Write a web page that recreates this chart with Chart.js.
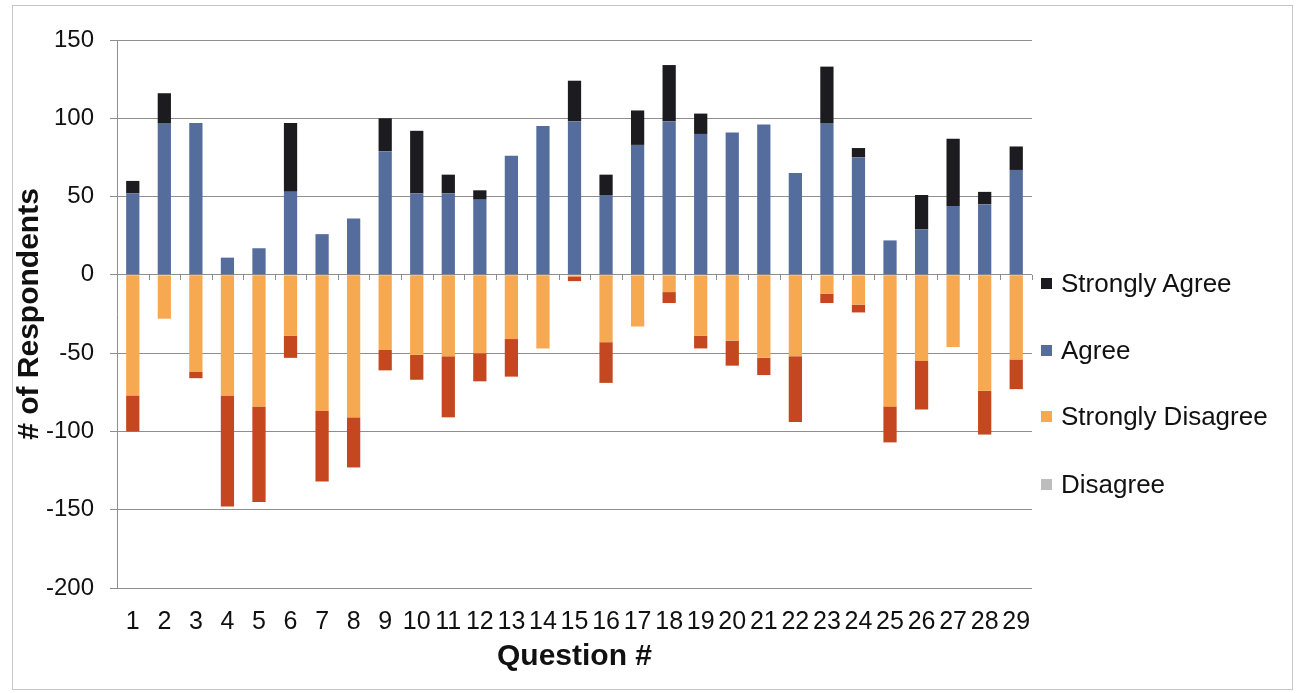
<!DOCTYPE html>
<html>
<head>
<meta charset="utf-8">
<title>Responses by Question</title>
<script src="https://cdn.jsdelivr.net/npm/chart.js@4.4.1/dist/chart.umd.min.js"></script>
<style>
  html, body { margin: 0; padding: 0; background: #fff; }
  #wrap { position: relative; width: 1297px; height: 693px; overflow: hidden; }
  #frame { position: absolute; left: 12px; top: 5px; width: 1279px; height: 683px;
           border: 1px solid #c6c6c6; pointer-events: none; }
  #legend { position: absolute; left: 1041px; top: 0; font-family: "Liberation Sans", Arial, sans-serif;
            font-size: 26px; color: #111; }
  #legend .item { position: absolute; left: 0; height: 30px; white-space: nowrap;
                  display: flex; align-items: center; }
  #legend .box { width: 11px; height: 11px; margin-right: 9px; flex: none; }
</style>
</head>
<body>
<div id="wrap">
  <canvas id="chart" width="1297" height="693"></canvas>
  <div id="frame"></div>
  <div id="legend"></div>
</div>
<script>
// Question numbers along the category axis
const questions = ['1','2','3','4','5','6','7','8','9','10','11','12','13','14','15',
                   '16','17','18','19','20','21','22','23','24','25','26','27','28','29'];

// Respondent counts per question (disagreement shown below zero)
const agree          = [52, 97, 97, 11, 17, 53, 26, 36, 79, 52, 52, 48, 76, 95, 98,
                        51, 83, 98, 90, 91, 96, 65, 97, 75, 22, 29, 44, 45, 67];
const stronglyAgree  = [ 8, 19,  0,  0,  0, 44,  0,  0, 21, 40, 12,  6,  0,  0, 26,
                        13, 22, 36, 13,  0,  0,  0, 36,  6,  0, 22, 43,  8, 15];
const stronglyDisagree = [-77, -28, -62, -77, -84, -39, -87, -91, -48, -51, -52, -50, -41, -47, -1,
                          -43, -33, -11, -39, -42, -53, -52, -12, -19, -84, -55, -46, -74, -54];
const disagree       = [-23,   0,  -4, -71, -61, -14, -45, -32, -13, -16, -39, -18, -24,   0, -3,
                        -26,   0,  -7,  -8, -16, -11, -42,  -6,  -5, -23, -31,   0, -28, -19];

// Y axis range and step
const yMin = -200, yMax = 150, yStep = 50;

const FONT = '"Liberation Sans", Arial, Helvetica, sans-serif';
Chart.defaults.font.family = FONT;
Chart.defaults.color = '#111';

const GRID = '#8e8e8e';

// Small tick marks on the zero line between the categories
const zeroTicks = {
  id: 'zeroTicks',
  afterDatasetsDraw(chart) {
    const { ctx, scales: { x, y } } = chart;
    const y0 = Math.round(y.getPixelForValue(0));
    const n = x.ticks.length;
    ctx.save();
    ctx.strokeStyle = GRID;
    ctx.lineWidth = 1;
    for (let i = 0; i <= n; i++) {
      let px;
      if (i === 0) px = x.left;
      else if (i === n) px = x.right;
      else px = (x.getPixelForTick(i - 1) + x.getPixelForTick(i)) / 2;
      px = Math.round(px) + 0.5;
      ctx.beginPath();
      ctx.moveTo(px, y0);
      ctx.lineTo(px, y0 + 5);
      ctx.stroke();
    }
    ctx.restore();
  }
};

// Legend rendered as HTML beside the plot
const legendRows = [
  { label: 'Strongly Agree',    center: 283 },
  { label: 'Agree',             center: 350 },
  { label: 'Strongly Disagree', center: 416 },
  { label: 'Disagree',          center: 484 }
];
const htmlLegend = {
  id: 'htmlLegend',
  afterUpdate(chart) {
    const host = document.getElementById('legend');
    host.innerHTML = '';
    legendRows.forEach(row => {
      const ds = chart.data.datasets.find(d => d.label === row.label);
      const item = document.createElement('div');
      item.className = 'item';
      item.style.top = (row.center - 15) + 'px';
      const box = document.createElement('span');
      box.className = 'box';
      box.style.background = ds.legendSwatch || ds.backgroundColor;
      const txt = document.createElement('span');
      txt.textContent = ds.label;
      item.appendChild(box);
      item.appendChild(txt);
      host.appendChild(item);
    });
  }
};

new Chart(document.getElementById('chart'), {
  type: 'bar',
  data: {
    labels: questions,
    datasets: [
      { label: 'Agree',             data: agree,            backgroundColor: '#556d9d' },
      { label: 'Strongly Agree',    data: stronglyAgree,    backgroundColor: '#1c1c20' },
      { label: 'Strongly Disagree', data: stronglyDisagree, backgroundColor: '#f7a952' },
      { label: 'Disagree',          data: disagree,         backgroundColor: '#c5471f', legendSwatch: '#bdbdbd' }
    ]
  },
  options: {
    responsive: false,
    animation: false,
    layout: { padding: { left: 0, top: 40, right: 265, bottom: 0 } },
    datasets: { bar: { categoryPercentage: 1.0, barPercentage: 0.42 } },
    plugins: {
      legend: { display: false },
      tooltip: { enabled: false }
    },
    scales: {
      x: {
        stacked: true,
        grid: { display: false, drawTicks: false },
        border: { display: false },
        ticks: { padding: 19, autoSkip: false, maxRotation: 0, color: '#111', font: { size: 25 } },
        title: { display: true, text: 'Question #', color: '#111',
                 font: { size: 30, weight: 'bold' }, padding: { top: 0, bottom: 18 } },
        afterFit(scale) { scale.height = 105; }
      },
      y: {
        stacked: true,
        min: yMin,
        max: yMax,
        ticks: { stepSize: yStep, padding: 16, color: '#111', font: { size: 24 } },
        grid: { color: GRID, tickLength: 7, drawTicks: true },
        border: { display: true, color: GRID },
        title: { display: true, text: '# of Respondents', color: '#111',
                 font: { size: 30, weight: 'bold' }, padding: { top: 12, bottom: 0 } },
        afterFit(scale) { scale.width = 117; }
      }
    }
  },
  plugins: [zeroTicks, htmlLegend]
});
</script>
</body>
</html>
